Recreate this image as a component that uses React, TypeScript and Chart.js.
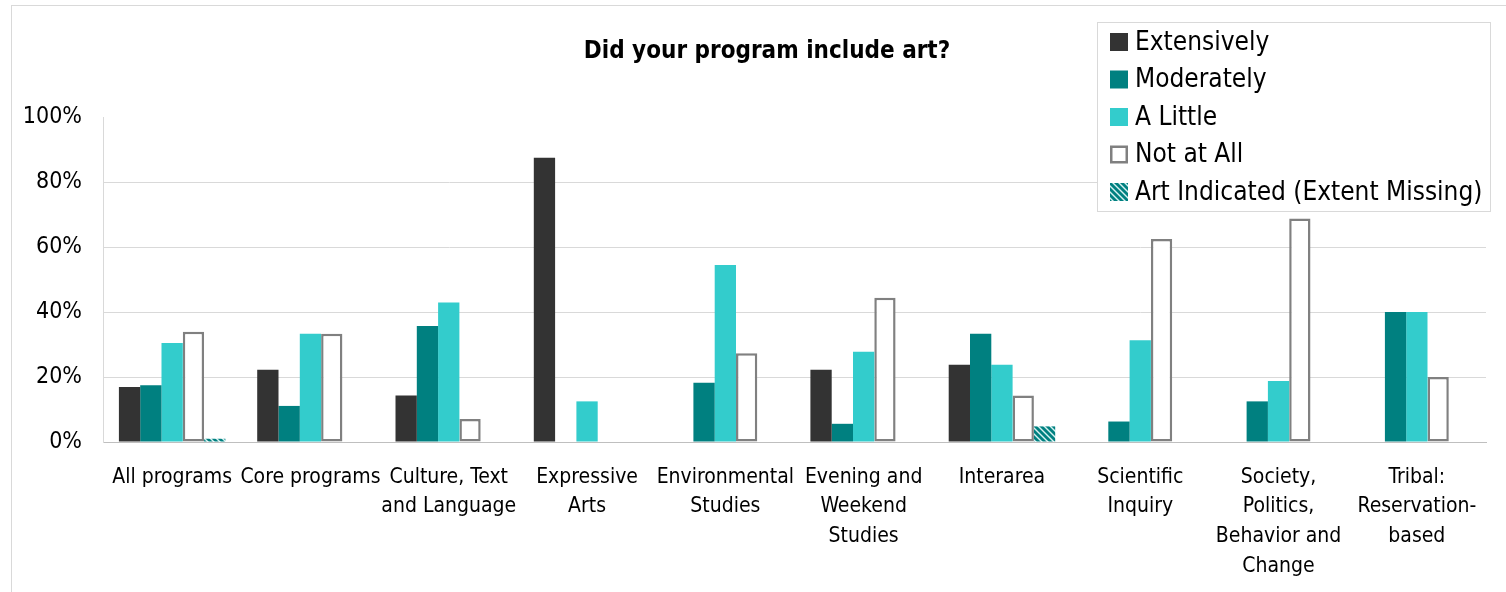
import { useEffect, useRef } from 'react';
import { Chart, registerables } from 'chart.js';

Chart.register(...registerables);

const categories: (string | string[])[] = [
  'All programs',
  'Core programs',
  ['Culture, Text', 'and Language'],
  ['Expressive', 'Arts'],
  ['Environmental', 'Studies'],
  ['Evening and', 'Weekend', 'Studies'],
  'Interarea',
  ['Scientific', 'Inquiry'],
  ['Society,', 'Politics,', 'Behavior and', 'Change'],
  ['Tribal:', 'Reservation-', 'based'],
];

const extensively = [16.9, 22.2, 14.3, 87.5, null, 22.2, 23.8, null, null, null];
const moderately = [17.5, 11.1, 35.7, null, 18.2, 5.6, 33.3, 6.3, 12.5, 40];
const aLittle = [30.5, 33.3, 42.9, 12.5, 54.5, 27.8, 23.8, 31.3, 18.8, 40];
const notAtAll = [33.9, 33.3, 7.1, null, 27.3, 44.4, 14.3, 62.5, 68.8, 20];
const extentMissing = [1.0, null, null, null, null, null, 4.8, null, null, null];

const seriesNames = ['Extensively', 'Moderately', 'A Little', 'Not at All', 'Art Indicated (Extent Missing)'];
const yTickValues = [0, 20, 40, 60, 80, 100];
const titleText = 'Did your program include art?';

const FONT = "'DejaVu Sans Condensed', 'DejaVu Sans', sans-serif";

function makeStripePattern(): CanvasPattern | string {
  const pc = document.createElement('canvas');
  pc.width = 6;
  pc.height = 6;
  const g = pc.getContext('2d');
  if (!g) return '#008080';
  g.fillStyle = '#008080';
  g.fillRect(0, 0, 6, 6);
  g.strokeStyle = '#d8f2f2';
  g.lineWidth = 1.4;
  for (const k of [-6, 0, 6]) {
    g.beginPath();
    g.moveTo(k - 1, -1);
    g.lineTo(k + 7, 7);
    g.stroke();
  }
  const p = g.createPattern(pc, 'repeat');
  return p || '#008080';
}

const titlePlugin = {
  id: 'placedTitle',
  afterDraw(chart: any) {
    const ctx = chart.ctx as CanvasRenderingContext2D;
    ctx.save();
    ctx.fillStyle = '#000000';
    ctx.font = `bold 24px ${FONT}`;
    ctx.textAlign = 'center';
    ctx.textBaseline = 'middle';
    ctx.fillText(titleText, 767, 52);
    ctx.restore();
  },
};

const legendPlugin = {
  id: 'boxLegend',
  afterDraw(chart: any) {
    const ctx = chart.ctx as CanvasRenderingContext2D;
    ctx.save();
    const x0 = 1097.5, y0 = 22.5, w = 393, h = 189;
    ctx.fillStyle = '#ffffff';
    ctx.fillRect(x0, y0, w, h);
    ctx.strokeStyle = '#d9d9d9';
    ctx.lineWidth = 1;
    ctx.strokeRect(x0, y0, w, h);
    chart.data.datasets.forEach((ds: any, i: number) => {
      const cy = 42 + i * 37.5;
      const sx = 1110, s = 18;
      const bw = ds.borderWidth || 0;
      if (bw > 0) {
        ctx.fillStyle = ds.borderColor;
        ctx.fillRect(sx, cy - s / 2, s, s);
        ctx.fillStyle = ds.backgroundColor;
        ctx.fillRect(sx + bw, cy - s / 2 + bw, s - 2 * bw, s - 2 * bw);
      } else {
        ctx.fillStyle = ds.backgroundColor;
        ctx.fillRect(sx, cy - s / 2, s, s);
      }
      ctx.fillStyle = '#000000';
      ctx.font = `26px ${FONT}`;
      ctx.textBaseline = 'middle';
      ctx.textAlign = 'left';
      ctx.fillText(ds.label, 1135, cy + 1);
    });
    ctx.restore();
  },
};

export default function App() {
  const ref = useRef<HTMLCanvasElement | null>(null);

  useEffect(() => {
    if (!ref.current) return;
    const stripes = makeStripePattern();
    const chart = new Chart(ref.current, {
      type: 'bar',
      data: {
        labels: categories as any,
        datasets: [
          { label: seriesNames[0], data: extensively as any, backgroundColor: '#333333', borderWidth: 0 },
          { label: seriesNames[1], data: moderately as any, backgroundColor: '#008080', borderWidth: 0 },
          { label: seriesNames[2], data: aLittle as any, backgroundColor: '#33cccc', borderWidth: 0 },
          {
            label: seriesNames[3],
            data: notAtAll as any,
            backgroundColor: '#ffffff',
            borderColor: '#808080',
            borderWidth: 2.5,
            borderSkipped: false,
          },
          { label: seriesNames[4], data: extentMissing as any, backgroundColor: stripes as any, borderWidth: 0 },
        ],
      },
      options: {
        responsive: false,
        animation: false,
        devicePixelRatio: 1,
        layout: { padding: { left: 0, right: 20, top: 117, bottom: 0 } },
        datasets: { bar: { categoryPercentage: 0.77, barPercentage: 1 } },
        plugins: {
          legend: { display: false },
          tooltip: { enabled: false },
          title: { display: false },
        },
        scales: {
          x: {
            grid: { display: false, drawTicks: false },
            border: { display: true, color: '#bfbfbf', width: 1 },
            ticks: {
              color: '#000000',
              font: { family: FONT, size: 21, lineHeight: 1.414 },
              padding: 20.5,
              maxRotation: 0,
              minRotation: 0,
              autoSkip: false,
            },
            afterFit: (scale: any) => {
              scale.height = 150;
            },
          },
          y: {
            min: 0,
            max: 100,
            afterBuildTicks: (scale: any) => {
              scale.ticks = yTickValues.map((v) => ({ value: v }));
            },
            grid: {
              drawTicks: false,
              color: (c: any) => (c.tick && (c.tick.value === 100 || c.tick.value === 0) ? 'rgba(0,0,0,0)' : '#d9d9d9'),
              lineWidth: 1,
            },
            border: { display: true, color: '#d9d9d9', width: 1 },
            ticks: {
              color: '#000000',
              font: { family: FONT, size: 23 },
              padding: 21,
              callback: (v: any) => `${v}%`,
            },
            afterFit: (scale: any) => {
              scale.width = 103;
            },
          },
        },
      },
      plugins: [legendPlugin, titlePlugin],
    });
    return () => chart.destroy();
  }, []);

  return (
    <div style={{ position: 'absolute', left: 0, top: 0, width: 1506, height: 592, overflow: 'hidden', background: '#ffffff' }}>
      <div
        style={{
          position: 'absolute',
          left: 11,
          top: 5,
          width: 1540,
          height: 640,
          border: '1px solid #d9d9d9',
        }}
      />
      <canvas ref={ref} width={1506} height={592} style={{ position: 'absolute', left: 0, top: 0, width: 1506, height: 592 }} />
    </div>
  );
}
